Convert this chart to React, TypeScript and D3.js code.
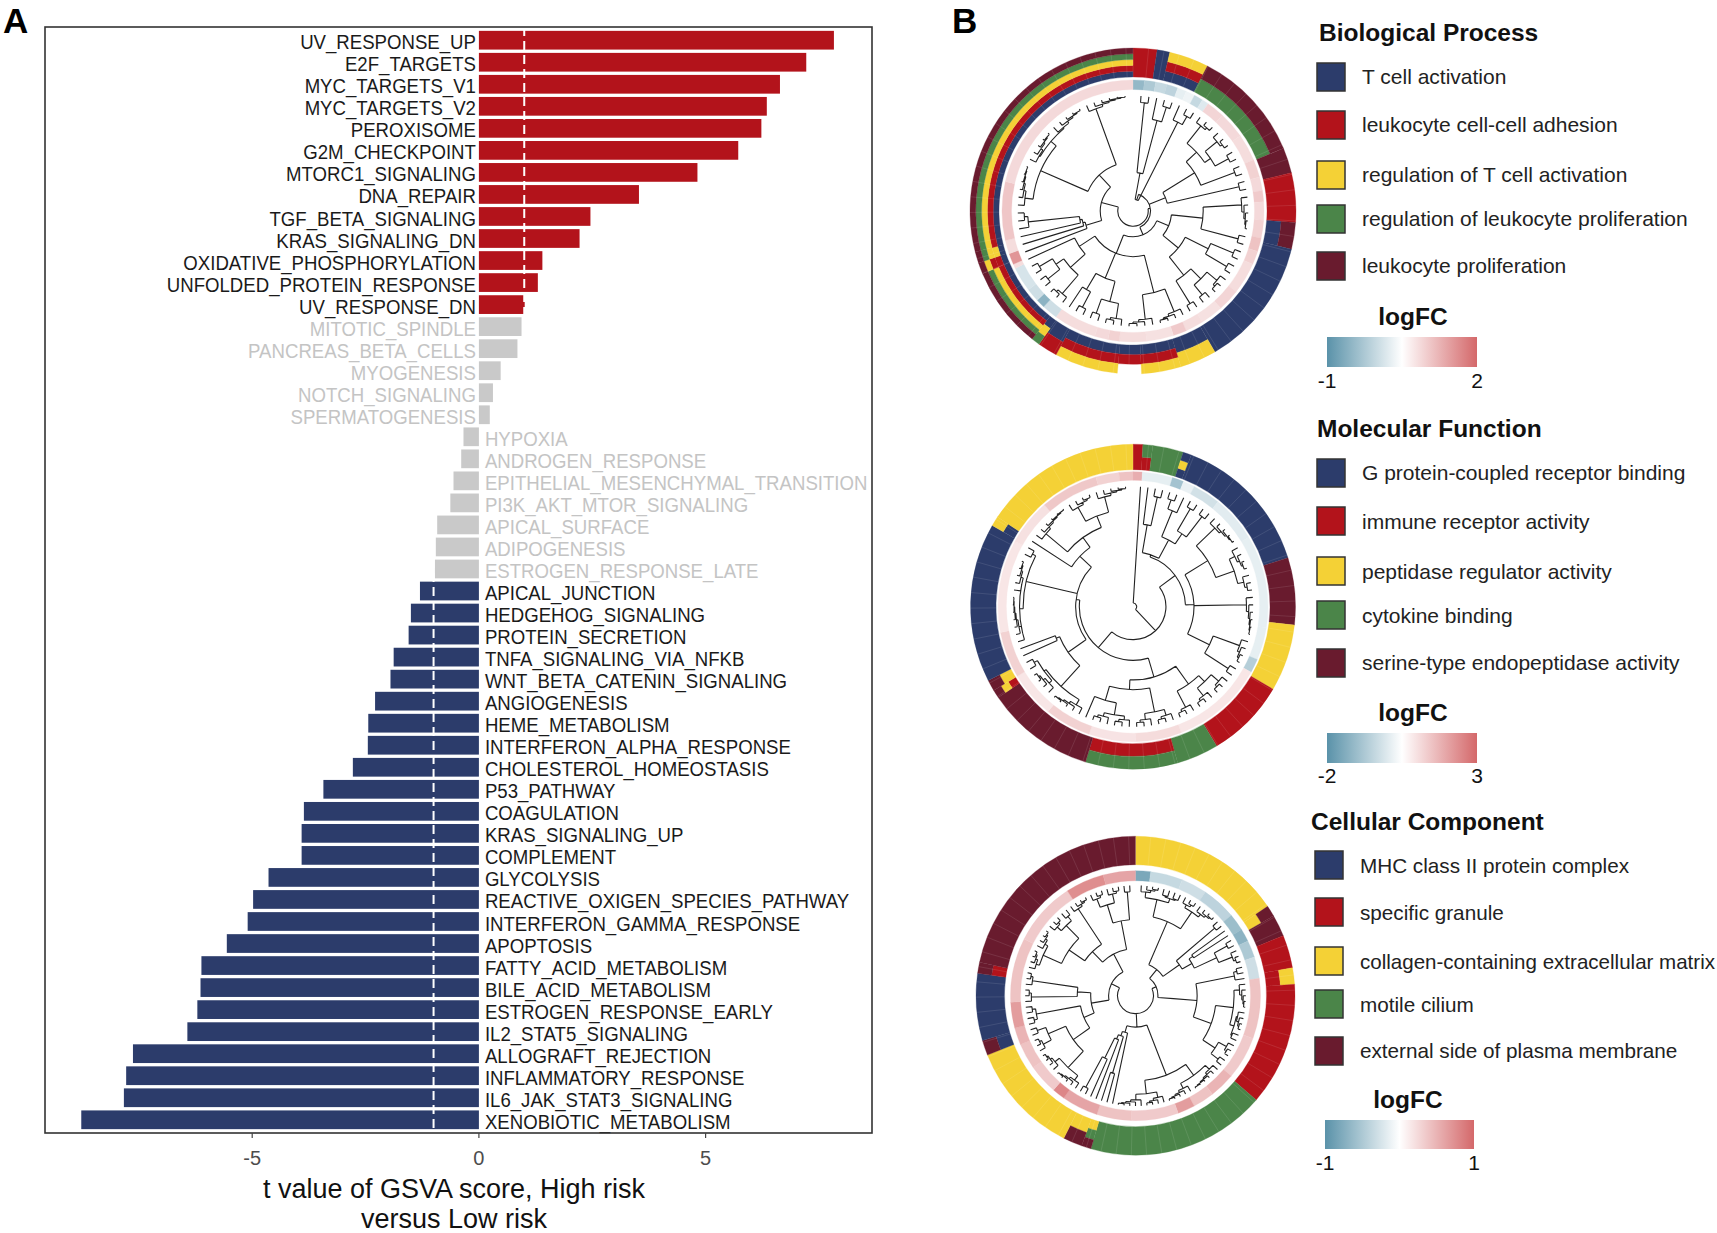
import * as d3 from 'd3';

// Panel A values
const pathways = [
	'UV_RESPONSE_UP', 'E2F_TARGETS', 'MYC_TARGETS_V1', 'MYC_TARGETS_V2', 'PEROXISOME', 'G2M_CHECKPOINT', 'MTORC1_SIGNALING',
	'DNA_REPAIR', 'TGF_BETA_SIGNALING', 'KRAS_SIGNALING_DN', 'OXIDATIVE_PHOSPHORYLATION', 'UNFOLDED_PROTEIN_RESPONSE',
	'UV_RESPONSE_DN', 'MITOTIC_SPINDLE', 'PANCREAS_BETA_CELLS', 'MYOGENESIS', 'NOTCH_SIGNALING', 'SPERMATOGENESIS',
	'HYPOXIA', 'ANDROGEN_RESPONSE', 'EPITHELIAL_MESENCHYMAL_TRANSITION', 'PI3K_AKT_MTOR_SIGNALING', 'APICAL_SURFACE',
	'ADIPOGENESIS', 'ESTROGEN_RESPONSE_LATE', 'APICAL_JUNCTION', 'HEDGEHOG_SIGNALING', 'PROTEIN_SECRETION',
	'TNFA_SIGNALING_VIA_NFKB', 'WNT_BETA_CATENIN_SIGNALING', 'ANGIOGENESIS', 'HEME_METABOLISM', 'INTERFERON_ALPHA_RESPONSE',
	'CHOLESTEROL_HOMEOSTASIS', 'P53_PATHWAY', 'COAGULATION', 'KRAS_SIGNALING_UP', 'COMPLEMENT', 'GLYCOLYSIS',
	'REACTIVE_OXIGEN_SPECIES_PATHWAY', 'INTERFERON_GAMMA_RESPONSE', 'APOPTOSIS', 'FATTY_ACID_METABOLISM', 'BILE_ACID_METABOLISM',
	'ESTROGEN_RESPONSE_EARLY', 'IL2_STAT5_SIGNALING', 'ALLOGRAFT_REJECTION', 'INFLAMMATORY_RESPONSE', 'IL6_JAK_STAT3_SIGNALING',
	'XENOBIOTIC_METABOLISM',
];
const tValues = [
	7.83, 7.22, 6.64, 6.35, 6.23, 5.72, 4.82, 3.53, 2.46, 2.22, 1.4, 1.3, 1.01, 0.94, 0.85, 0.48, 0.31, 0.24,
	-0.34, -0.39, -0.56, -0.63, -0.92, -0.95, -0.97, -1.3, -1.5, -1.55, -1.88, -1.95, -2.29, -2.44, -2.45, -2.78, -3.43,
	-3.86, -3.91, -3.91, -4.64, -4.98, -5.1, -5.56, -6.12, -6.14, -6.21, -6.43, -7.63, -7.78, -7.83, -8.77,
];
const xTicks = [-5, 0, 5];
const cutoffs = [-1, 1];

// Panel B legends
const termColors: Record<string, string> = { N: '#2c3c6b', R: '#b3131b', Y: '#f4d136', G: '#4b8549', M: '#691b2e' };
const termCodes = ['N', 'R', 'Y', 'G', 'M'];
const bpTerms = ['T cell activation', 'leukocyte cell-cell adhesion', 'regulation of T cell activation', 'regulation of leukocyte proliferation', 'leukocyte proliferation'];
const mfTerms = ['G protein-coupled receptor binding', 'immune receptor activity', 'peptidase regulator activity', 'cytokine binding', 'serine-type endopeptidase activity'];
const ccTerms = ['MHC class II protein complex', 'specific granule', 'collagen-containing extracellular matrix', 'motile cilium', 'external side of plasma membrane'];

// Annotation ring: [genes, stack of terms from inside to outside]
type Run = [number, string];
const bpRuns: Run[] = [
	[8.5, 'R'], [4.5, 'N'], [14, 'NRY'], [40, 'GM'], [9, 'M'], [17.5, 'R'], [9.5, 'NM'], [46, 'N'], [13, 'NY'], [14, 'NRY'],
	[8.5, 'NR-'], [22.5, 'NRY'], [7, 'NR'], [3, 'NYG'], [29, 'NRYGM'], [4, 'NRRYM'], [4, 'NYYGM'], [104, 'NRYGM'],
];
const mfRuns: Run[] = [
	[3.5, 'R'], [3.5, 'RG'], [11, 'G'], [3, 'NYN'], [51.5, 'N'], [24, 'M'], [24, 'Y'], [28.5, 'R'], [15, 'G'], [33, 'RG'],
	[39, 'M'], [3, 'RYM'], [4, 'YM'], [57, 'N'], [3.5, 'NY'], [56.5, 'Y'],
];
const ccRuns: Run[] = [
	[56, 'Y'], [4, 'YM'], [8, 'M'], [12, 'R'], [6, 'RY'], [45, 'R'], [65.5, 'G'], [3.5, 'YGM'], [7, 'YM'], [41.5, 'Y'],
	[5.5, 'NM'], [24.5, 'N'], [4, 'RM'], [78, 'M'],
];

// logFC ring: [genes, logFC]
const bpFc: [number, number][] = [
	[5, -0.65], [5, -0.5], [5, -0.35], [5, -0.4], [4, -0.15], [4, -0.1], [4, -0.35], [3, -0.2], [8, 0.55], [12, 0.5], [12, 0.45],
	[8, 0.6], [6, 0.5], [5, 0.7], [8, 0.5], [8, 0.6], [6, 0.8], [6, 0.6], [14, 0.45], [10, 0.55], [10, 0.4], [8, 0.45], [6, 0.7],
	[12, 0.4], [12, 0.45], [5, 0.6], [6, 0.5], [19, 0.45], [7, -0.3], [4, -0.7], [6, -0.3], [11, -0.25], [2, 0.45], [5, 1.4],
	[6, 0.45], [26, 0.75], [77, 0.5],
];
const mfFc: [number, number][] = [
	[4, 1.6], [13, -0.3], [5, -1.1], [5, -0.25], [12, -0.55], [20, -0.35], [40, -0.3], [14, -0.3], [6, -0.9], [40, 0.5], [20, 0.7],
	[20, 0.55], [20, 0.9], [20, 0.5], [20, 0.9], [40, 0.5], [20, 0.6], [25, 1.1], [10, 0.9], [6, 1.2],
];
const ccFc: [number, number][] = [
	[7, -0.8], [15, -0.35], [12, -0.3], [16, -0.4], [8, -0.6], [6, -0.7], [8, -0.5], [10, -0.3], [28, 0.4], [20, 0.35], [12, 0.5],
	[10, 0.4], [8, 0.65], [22, 0.35], [16, 0.4], [17, 0.6], [6, 0.8], [14, 0.35], [12, 0.4], [8, 0.5], [12, 0.65], [30, 0.4],
	[30, 0.35], [18, 0.75], [15, 0.6],
];

// Dendrograms: [node height, ...children]; a plain number is a small clade of that many leaves
type Spec = number | Spec[];
const bpTree: Spec = [0.13,
	[0.15,
		[0.1, [0.33, [0.93, 1, 1], [0.8, 1, [0.93, 1, 1]]], [0.85, 1, [0.93, 1, 1]]],
		[0.3, [0.62, [0.74, 3, [0.8, 3, 2]], 2], 2],
		[0.22,
			[0.33, [0.6, 5, 2], [0.5, [0.72, 2, 2], [0.7, [0.82, 3, 2], 2]]],
			[0.39, [0.72, 4, 4], [0.62, [0.8, 3, 2], [0.78, 2, 1]], [0.55, [0.72, 3, [0.8, 2, 2]], 1]]],
	],
	[0.28,
		[0.42, 1, [0.44, 1, [0.46, 1, [0.9, 1, 2]]]],
		[0.42, [0.86, 6, [0.92, 5, 5]], 6],
	],
];
const mfTree: Spec = [0.03, 1,
	[0.27,
		[0.43,
			[0.45, [0.68, 1, [0.92, 1, 1]], [0.62, [0.85, 2, 1], [0.72, 2, 2]]],
			[0.5, [0.72, 5, [0.88, 4, 3]], 6, [0.7, 4, 2]],
		],
		[0.44,
			[0.6, [0.78, [0.85, 3, 3], 3], [0.68, [0.88, 3, 3], [0.8, [0.9, 3, 3], 1]]],
			[0.47,
				[0.5, [0.65, [0.88, 5, [0.9, 4, 2]], [0.68, 1, 1]]],
				[0.58, [0.9, [0.93, 7, 5], 2]],
				[0.6, 1, [0.7, 6, [0.8, 4, 5]]],
			],
		],
	],
];
const ccTree: Spec = [0.16,
	[0.2,
		[0.3, [0.72, [0.88, 4, [0.92, 2, 2]], [0.9, 3, 4]], [0.48, 2, [0.58, [0.62, 1, 1], [0.8, 2, 3]]]],
		[0.34, [0.55, [0.9, 2, 1], [0.72, [0.88, 5, [0.92, 4, 2]], [0.85, 3, 2]]]],
	],
	[0.28,
		[0.76, [0.88, 6, 5], [0.88, 4, 5]],
		[0.34, 1, [0.38, [0.72, 1, 1], [0.42, 1, [0.62, 1, 2]]]],
	],
	[0.24,
		[0.4, [0.5, [0.68, [0.88, 5, 4], [0.85, 3, 2]], [0.9, 2, 2]], [0.52, 3, 3]],
		[0.42, [0.55, [0.72, [0.9, 4, 4], [0.88, 3, 2]], 4], [0.68, [0.85, 3, 3], 2]],
	],
];

const red = '#b3131b';
const navy = '#2c3c6b';
const grey = '#c9c9c9';
const arial = '"Liberation Sans", Arial, sans-serif';

const width = 1717;
const height = 1233;
const frame = { left: 45, right: 872, top: 27, bottom: 1133 };

const x = d3.scaleLinear().domain([-9.57, 8.67]).range([frame.left, frame.right]);
const y = d3.scalePoint<string>().domain(pathways).range([frame.top, frame.bottom]).padding(0.6);
const barHeight = y.step() * 0.85;

const barColor = (v: number) => (v > 1 ? red : v < -1 ? navy : grey);

function expand(spec: Spec): any {
	if (Array.isArray(spec)) return { h: spec[0], kids: spec.slice(1).map(expand) };
	return comb(spec, 0.93);
}

function comb(n: number, h: number): any {
	if (n <= 1) return { h: 0.985 };
	return { h, kids: [{ h: 0.985 }, comb(n - 1, h + (0.985 - h) * 0.35)] };
}

function treePath(spec: Spec, radius: number) {
	const root = d3.hierarchy(expand(spec), (d: any) => d.kids);
	const n = root.leaves().length;
	d3.cluster().size([360 - 360 / n, 1]).separation(() => 1)(root as any);
	const r = d3.scaleLinear().domain([0, 1]).range([0, radius]);
	const rad = (deg: number) => ((deg + 360 / n / 2 - 90) * Math.PI) / 180;
	const p = d3.path();
	root.each((node: any) => {
		if (!node.children) return;
		const first = node.children[0];
		const last = node.children[node.children.length - 1];
		const rn = r(node.data.h);
		p.moveTo(rn * Math.cos(rad(first.x)), rn * Math.sin(rad(first.x)));
		p.arc(0, 0, rn, rad(first.x), rad(last.x));
		node.children.forEach((c: any) => {
			p.moveTo(rn * Math.cos(rad(c.x)), rn * Math.sin(rad(c.x)));
			p.lineTo(r(c.data.h) * Math.cos(rad(c.x)), r(c.data.h) * Math.sin(rad(c.x)));
		});
	});
	return p.toString();
}

const arc = d3.arc();

function Circos({ cx, cy, outer, annInner, fcOuter, fcInner, leaf, runs, fc, domain, tree, id }: any) {
	const total = d3.sum(runs, (d: Run) => d[0]);
	const angle = d3.scaleLinear().domain([0, total]).range([0, 2 * Math.PI]);
	const color = d3.scaleLinear<string>().domain(domain).range(['#5a92a9', '#ffffff', '#d4686a']);
	const fcTotal = d3.sum(fc, (d: [number, number]) => d[0]);
	const fcAngle = d3.scaleLinear().domain([0, fcTotal]).range([0, 2 * Math.PI]);
	let start = 0;
	let fcStart = 0;
	return (
		<g transform={`translate(${cx},${cy})`}>
			{runs.map((run: Run, i: number) => {
				const a0 = angle(start);
				const a1 = angle(start + run[0]);
				start += run[0];
				const stack = run[1].split('');
				const dr = (outer - annInner) / stack.length;
				return stack.map((code, j) =>
					code === '-' ? null : (
						<path
							key={`${id}${i}-${j}`}
							d={arc({ innerRadius: annInner + j * dr, outerRadius: annInner + (j + 1) * dr, startAngle: a0, endAngle: a1 }) as string}
							fill={termColors[code]}
							stroke={termColors[code]}
							strokeWidth={0.3}
						/>
					)
				);
			})}
			{fc.map((cell: [number, number], i: number) => {
				const a0 = fcAngle(fcStart);
				const a1 = fcAngle(fcStart + cell[0]);
				fcStart += cell[0];
				return (
					<path
						key={i}
						d={arc({ innerRadius: fcInner, outerRadius: fcOuter, startAngle: a0, endAngle: a1 }) as string}
						fill={color(cell[1])}
						stroke={color(cell[1])}
						strokeWidth={0.3}
					/>
				);
			})}
			{d3.range(0, 360, 5.5).map((deg) => {
				const t = ((deg - 90) * Math.PI) / 180;
				return (
					<line
						key={deg}
						x1={annInner * Math.cos(t)}
						y1={annInner * Math.sin(t)}
						x2={outer * Math.cos(t)}
						y2={outer * Math.sin(t)}
						stroke="#fff"
						strokeOpacity={0.13}
						strokeWidth={0.8}
					/>
				);
			})}
			<path d={treePath(tree, leaf)} fill="none" stroke="#222" strokeWidth={1.1} />
		</g>
	);
}

function Legend({ title, titleX, titleY, boxX, boxY, textX, textY, terms, fontSize, fcX, fcY, barX0, barX1, barY0, barY1, labelY, lo, hi, id, squeeze }: any) {
	return (
		<g fontFamily={arial}>
			<text x={titleX} y={titleY} dy="0.35em" fontSize={24.5} fontWeight="bold" fill="#111">{title}</text>
			{terms.map((t: string, i: number) => (
				<g key={t}>
					<rect x={boxX} y={boxY[i]} width={28} height={28} fill={termColors[termCodes[i]]} stroke="#333" strokeWidth={1.5} />
					<text x={textX} y={textY[i]} dy="0.35em" fontSize={fontSize} fill="#222" textLength={squeeze && squeeze[i] ? squeeze[i] : undefined} lengthAdjust="spacingAndGlyphs">{t}</text>
				</g>
			))}
			<text x={fcX} y={fcY} dy="0.35em" textAnchor="middle" fontSize={24.5} fontWeight="bold" fill="#111">logFC</text>
			<defs>
				<linearGradient id={id} x1="0" x2="1" y1="0" y2="0">
					<stop offset="0" stopColor="#5a92a9" />
					<stop offset="0.5" stopColor="#ffffff" />
					<stop offset="1" stopColor="#d4686a" />
				</linearGradient>
			</defs>
			<rect x={barX0} y={barY0} width={barX1 - barX0} height={barY1 - barY0} fill={`url(#${id})`} />
			<text x={barX0} y={labelY} dy="0.35em" textAnchor="middle" fontSize={21} fill="#111">{lo}</text>
			<text x={barX1} y={labelY} dy="0.35em" textAnchor="middle" fontSize={21} fill="#111">{hi}</text>
		</g>
	);
}

export default function App() {
	const x0 = x(0);
	return (
		<svg width={width} height={height} style={{ position: 'absolute', left: 0, top: 0, background: '#fff' }}>
			<text x={3} y={33} fontFamily={arial} fontWeight="bold" fontSize={35} fill="#000">A</text>
			<text x={952} y={33} fontFamily={arial} fontWeight="bold" fontSize={35} fill="#000">B</text>

			{pathways.map((name, i) => {
				const v = tValues[i];
				const yc = y(name) as number;
				return (
					<rect key={name} x={Math.min(x(v), x0)} y={yc - barHeight / 2} width={Math.abs(x(v) - x0)} height={barHeight} fill={barColor(v)} />
				);
			})}
			{cutoffs.map((c) => (
				<line key={c} x1={x(c)} x2={x(c)} y1={frame.top} y2={frame.bottom} stroke="#fff" strokeWidth={2} strokeDasharray="9 5" />
			))}
			{pathways.map((name, i) => {
				const v = tValues[i];
				const yc = (y(name) as number) + 2;
				const up = v > 0;
				return (
					<text
						key={name}
						transform={`translate(${up ? x0 - 3 : x0 + 6},${yc}) scale(0.955,1)`}
						dy="0.36em"
						textAnchor={up ? 'end' : 'start'}
						fontFamily={arial}
						fontSize={19.5}
						fill={Math.abs(v) > 1 ? '#1a1a1a' : '#c4c4c4'}
					>
						{name}
					</text>
				);
			})}
			<rect x={frame.left} y={frame.top} width={frame.right - frame.left} height={frame.bottom - frame.top} fill="none" stroke="#333" strokeWidth={1.6} />
			{xTicks.map((t) => (
				<g key={t}>
					<line x1={x(t)} x2={x(t)} y1={frame.bottom} y2={frame.bottom + 5} stroke="#444" strokeWidth={1.2} />
					<text x={x(t)} y={frame.bottom + 25} dy="0.36em" textAnchor="middle" fontFamily={arial} fontSize={20} fill="#4d4d4d">{t}</text>
				</g>
			))}
			<text x={454} y={1188} dy="0.36em" textAnchor="middle" fontFamily={arial} fontSize={27} fill="#111">t value of GSVA score, High risk</text>
			<text x={454} y={1218} dy="0.36em" textAnchor="middle" fontFamily={arial} fontSize={27} fill="#111">versus Low risk</text>

			<Circos id="bp" cx={1133} cy={211} outer={163} annInner={134} fcOuter={131} fcInner={121.5} leaf={117} runs={bpRuns} fc={bpFc} domain={[-1, 0, 2]} tree={bpTree} />
			<Circos id="mf" cx={1133} cy={606.7} outer={162.5} annInner={137} fcOuter={135} fcInner={126.5} leaf={122} runs={mfRuns} fc={mfFc} domain={[-2, 0, 3]} tree={mfTree} />
			<Circos id="cc" cx={1135.5} cy={995.7} outer={159.5} annInner={131} fcOuter={125} fcInner={115} leaf={112} runs={ccRuns} fc={ccFc} domain={[-1, 0, 1]} tree={ccTree} />

			<Legend id="fc1" title="Biological Process" titleX={1319} titleY={32} boxX={1317} boxY={[63, 111, 161, 205, 252]} textX={1362} textY={[77, 125, 175, 219, 266]} terms={bpTerms} fontSize={21} fcX={1413} fcY={316} barX0={1327} barX1={1477} barY0={337} barY1={367} labelY={381} lo={-1} hi={2} />
			<Legend id="fc2" title="Molecular Function" titleX={1317} titleY={428} boxX={1317} boxY={[459, 507, 557, 601, 649]} textX={1362} textY={[473, 521.6, 572, 616, 663]} terms={mfTerms} fontSize={21} fcX={1413} fcY={712} barX0={1327} barX1={1477} barY0={733} barY1={763} labelY={776} lo={-2} hi={3} />
			<Legend id="fc3" title="Cellular Component" titleX={1311} titleY={821} boxX={1315} boxY={[851, 898, 947, 990, 1037]} textX={1360} textY={[865.6, 913, 962, 1005, 1051]} terms={ccTerms} fontSize={20.7} fcX={1408} fcY={1099} barX0={1325} barX1={1474} barY0={1120} barY1={1149} labelY={1162.5} lo={-1} hi={1} squeeze={[0, 0, 355, 0, 0]} />
		</svg>
	);
}
